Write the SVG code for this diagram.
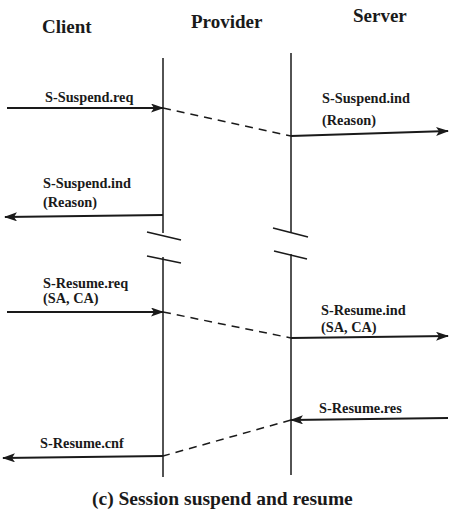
<svg xmlns="http://www.w3.org/2000/svg" width="450" height="514" viewBox="0 0 450 514">
  <style>
    .hdr { font-family: "Liberation Serif", "Times New Roman", serif; font-weight: bold; font-size: 19px; fill: #1a1a1a; }
    .lbl { font-family: "Liberation Serif", "Times New Roman", serif; font-weight: bold; font-size: 14.3px; fill: #1a1a1a; }
    .cap { font-family: "Liberation Serif", "Times New Roman", serif; font-weight: bold; font-size: 19.5px; fill: #1a1a1a; }
    .life { stroke: #1a1a1a; stroke-width: 1.5; fill: none; }
    .brk { stroke: #1a1a1a; stroke-width: 1.5; fill: none; }
    .msg { stroke: #1a1a1a; stroke-width: 2.2; fill: none; marker-end: url(#head); }
    .dash { stroke: #1a1a1a; stroke-width: 1.5; fill: none; stroke-dasharray: 8 6; }
  </style>
  <defs>
    <marker id="head" viewBox="0 0 13 9" refX="12" refY="4.5" markerWidth="13" markerHeight="9" markerUnits="userSpaceOnUse" orient="auto">
      <path d="M0,0 L13,4.5 L0,9 L3,4.5 Z" fill="#1a1a1a"/>
    </marker>
  </defs>
  <rect width="450" height="514" fill="#ffffff"/>

  <!-- Client column -->
  <g id="client">
    <text class="hdr" x="42" y="33">Client</text>
  </g>

  <!-- Provider column: two lifelines with a time break -->
  <g id="provider">
    <text class="hdr" x="191" y="28">Provider</text>
    <line class="life" x1="163" y1="58" x2="163" y2="233"/>
    <line class="life" x1="163" y1="257" x2="163" y2="477"/>
    <line class="brk" x1="147" y1="232" x2="181" y2="240"/>
    <line class="brk" x1="147" y1="256" x2="181" y2="263"/>
    <line class="life" x1="291" y1="53" x2="291" y2="232"/>
    <line class="life" x1="291" y1="254" x2="291" y2="475"/>
    <line class="brk" x1="273" y1="228" x2="308" y2="237"/>
    <line class="brk" x1="274" y1="251" x2="307" y2="259"/>
  </g>

  <!-- Server column -->
  <g id="server">
    <text class="hdr" x="353" y="22">Server</text>
  </g>

  <!-- Primitives and provider transfers -->
  <g id="connectors">
    <line class="msg" x1="7" y1="108" x2="163" y2="108"/>
    <line class="dash" x1="163" y1="108" x2="291" y2="136"/>
    <line class="msg" x1="291" y1="136" x2="448" y2="131"/>

    <line class="msg" x1="163" y1="215" x2="5" y2="217"/>

    <line class="msg" x1="7" y1="312" x2="163" y2="312"/>
    <line class="dash" x1="163" y1="312" x2="291" y2="338"/>
    <line class="msg" x1="291" y1="338" x2="448" y2="336"/>

    <line class="msg" x1="448" y1="418" x2="291" y2="420"/>
    <line class="dash" x1="291" y1="420" x2="163" y2="456"/>
    <line class="msg" x1="163" y1="456" x2="3" y2="458"/>
  </g>

  <g id="labels">
    <text class="lbl" x="45" y="102">S-Suspend.req</text>
    <text class="lbl" x="322" y="103">S-Suspend.ind</text>
    <text class="lbl" x="322" y="125">(Reason)</text>
    <text class="lbl" x="43" y="188">S-Suspend.ind</text>
    <text class="lbl" x="43" y="207">(Reason)</text>
    <text class="lbl" x="43" y="288">S-Resume.req</text>
    <text class="lbl" x="43" y="303">(SA, CA)</text>
    <text class="lbl" x="321" y="315">S-Resume.ind</text>
    <text class="lbl" x="321" y="332">(SA, CA)</text>
    <text class="lbl" x="319" y="413">S-Resume.res</text>
    <text class="lbl" x="40" y="448">S-Resume.cnf</text>
  </g>

  <text class="cap" x="92" y="505">(c) Session suspend and resume</text>
</svg>
